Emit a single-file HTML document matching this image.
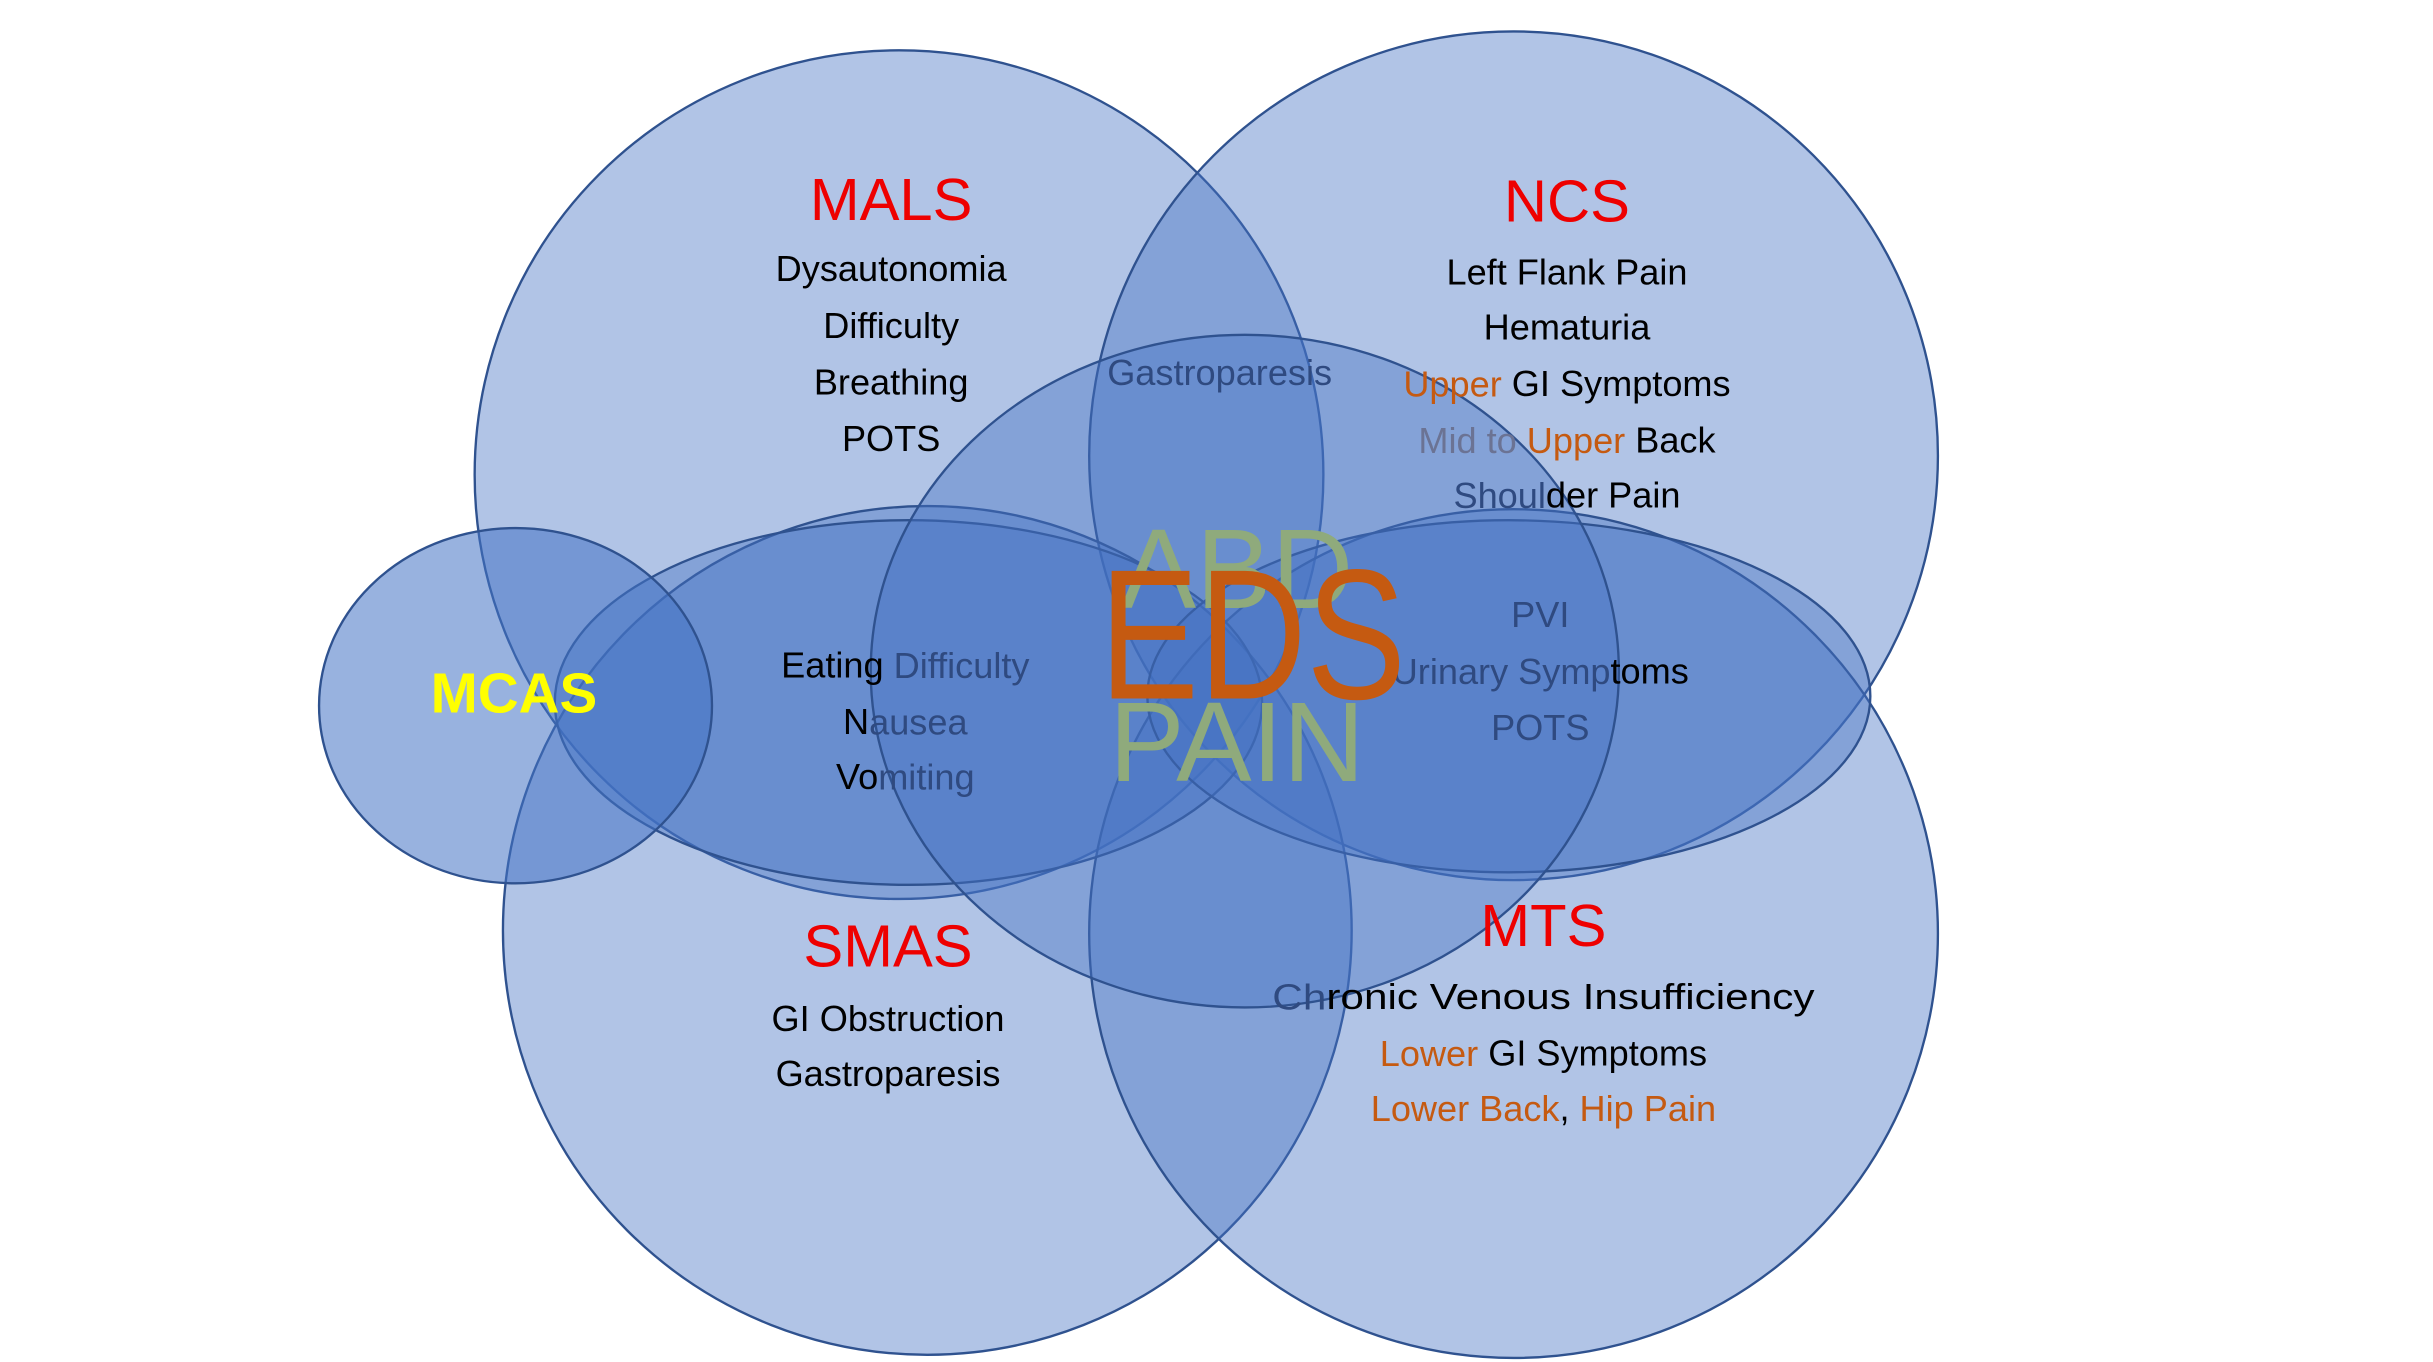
<!DOCTYPE html>
<html><head><meta charset="utf-8"><style>
html,body{margin:0;padding:0;background:#fff;}
svg{display:block;}
text{font-family:"Liberation Sans",sans-serif;}
</style></head><body>
<svg width="2433" height="1362" viewBox="0 0 1548 866.6" preserveAspectRatio="none" xmlns="http://www.w3.org/2000/svg">
<g fill="#4472c4" fill-opacity="0.42" stroke="#2f528f" stroke-width="1.5">
<circle cx="572" cy="302" r="270"/>
<circle cx="963" cy="290" r="270"/>
<circle cx="590" cy="592" r="270"/>
<circle cx="963" cy="594" r="270"/>
<ellipse cx="578" cy="447" rx="225" ry="116"/>
<ellipse cx="960" cy="443" rx="230" ry="112"/>
<ellipse cx="792" cy="427" rx="238" ry="214"/>
</g>
<ellipse cx="328" cy="449" rx="125" ry="113" fill="#4472c4" fill-opacity="0.55" stroke="#2f528f" stroke-width="1.5"/>
<g text-anchor="middle" dominant-baseline="central" font-size="23">
<text x="567" y="127" font-size="38" fill="#ee0000">MALS</text>
<text x="567" y="171">Dysautonomia</text>
<text x="567" y="207">Difficulty</text>
<text x="567" y="243">Breathing</text>
<text x="567" y="279">POTS</text>
<text x="997" y="128" font-size="38" fill="#ee0000">NCS</text>
<text x="997" y="173">Left Flank Pain</text>
<text x="997" y="208">Hematuria</text>
<text x="997" y="244"><tspan fill="#c55a11">Upper</tspan> GI Symptoms</text>
<text x="997" y="280"><tspan fill="#6b7394">Mid to</tspan> <tspan fill="#c55a11">Upper</tspan> Back</text>
<text x="997" y="315"><tspan fill="#2f4a80">Shoul</tspan>der Pain</text>
<text x="776" y="237" fill="#2f4a80">Gastroparesis</text>
<text x="576" y="423">Eating <tspan fill="#2f4a80">Difficulty</tspan></text>
<text x="576" y="459">N<tspan fill="#2f4a80">ausea</tspan></text>
<text x="576" y="494">Vo<tspan fill="#2f4a80">miting</tspan></text>
<text x="980" y="391" fill="#2f4a80">PVI</text>
<text x="980" y="427"><tspan fill="#2f4a80">Urinary Symp</tspan>toms</text>
<text x="980" y="463" fill="#2f4a80">POTS</text>
<text x="565" y="602" font-size="38" fill="#ee0000">SMAS</text>
<text x="565" y="648">GI Obstruction</text>
<text x="565" y="683">Gastroparesis</text>
<text x="982" y="589" font-size="38" fill="#ee0000">MTS</text>
<text x="982" y="634" textLength="345" lengthAdjust="spacingAndGlyphs"><tspan fill="#2f4a80">Ch</tspan>ronic Venous Insufficiency</text>
<text x="982" y="670"><tspan fill="#c55a11">Lower</tspan> GI Symptoms</text>
<text x="982" y="705"><tspan fill="#c55a11">Lower Back</tspan>, <tspan fill="#c55a11">Hip Pain</tspan></text>
<text x="787" y="362" font-size="72" fill="#8faa7c">ABD</text>
<text x="787" y="472" font-size="72" fill="#8faa7c">PAIN</text>
<text x="797" y="404" font-size="118" fill="#c55a11" textLength="195" lengthAdjust="spacingAndGlyphs">EDS</text>
<text x="327" y="441" font-size="36" font-weight="bold" fill="#ffff00">MCAS</text>
</g>
</svg>
</body></html>
